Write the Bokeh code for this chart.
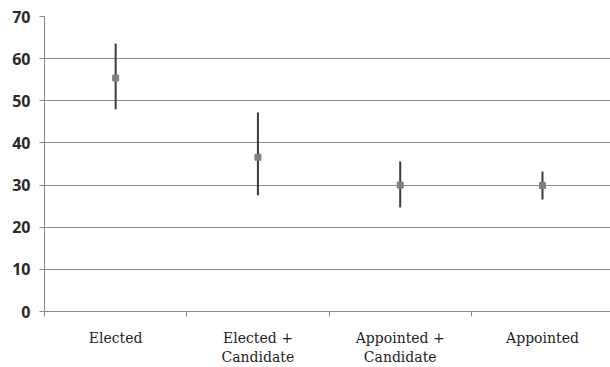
from bokeh.plotting import figure
from bokeh.models import Range1d, FixedTicker, ColumnDataSource
from bokeh.embed import file_html
from bokeh.resources import INLINE

# Group labels and estimates with their interval bounds
groups = ["Elected", "Elected +\nCandidate", "Appointed +\nCandidate", "Appointed"]
means = [55.4, 36.6, 30.0, 29.9]
upper = [63.6, 47.2, 35.6, 33.2]
lower = [48.0, 27.6, 24.7, 26.6]
y_ticks = [0, 10, 20, 30, 40, 50, 60, 70]

xs = [i + 0.5 for i in range(len(groups))]
src = ColumnDataSource(dict(x=xs, m=means, hi=upper, lo=lower))

p = figure(width=610, height=367, output_backend="svg", toolbar_location=None,
           x_range=Range1d(0, 3.978), y_range=Range1d(0, 70),
           min_border_left=44, min_border_right=0, min_border_top=16, min_border_bottom=53)
p.outline_line_color = None
p.background_fill_color = "white"
p.border_fill_color = "white"

# interval lines and point estimates
p.segment(x0="x", y0="lo", x1="x", y1="hi", source=src, line_color="#3a3a3a", line_width=2)
p.scatter(x="x", y="m", source=src, marker="square", size=6, fill_color="#808080", line_color="#808080")

# y axis
p.yaxis.ticker = FixedTicker(ticks=y_ticks)
p.yaxis.axis_line_color = "#888888"
p.yaxis.major_tick_line_color = "#888888"
p.yaxis.major_tick_out = 5
p.yaxis.major_tick_in = 0
p.yaxis.minor_tick_line_color = None
p.yaxis.major_label_text_font = "Open Sans"
p.yaxis.major_label_text_font_size = "16px"
p.yaxis.major_label_text_font_style = "bold"
p.yaxis.major_label_text_color = "#2a2a2a"
p.yaxis.major_label_standoff = 9

# x axis: labels at group centres, tick marks at group boundaries
p.xaxis.ticker = FixedTicker(ticks=xs, minor_ticks=[0, 1, 2, 3, 4])
p.xaxis.major_label_overrides = {x: g for x, g in zip(xs, groups)}
p.xaxis.axis_line_color = "#888888"
p.xaxis.major_tick_line_color = None
p.xaxis.minor_tick_line_color = "#888888"
p.xaxis.minor_tick_out = 5
p.xaxis.minor_tick_in = 0
p.xaxis.major_label_text_font = "DejaVu Serif"
p.xaxis.major_label_text_font_size = "14px"
p.xaxis.major_label_text_color = "#1e1e1e"
p.xaxis.major_label_standoff = 12

p.xgrid.grid_line_color = None
p.ygrid.ticker = FixedTicker(ticks=y_ticks)
p.ygrid.grid_line_color = "#8c8c8c"
p.ygrid.grid_line_width = 1.2

open("out.html", "w").write(file_html(p, INLINE))
